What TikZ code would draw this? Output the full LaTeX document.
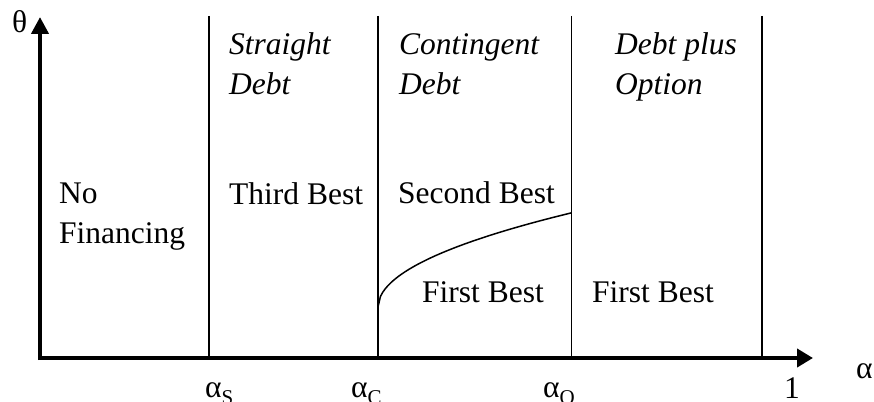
\documentclass[tikz,border=0pt]{standalone}
\usepackage{fontspec}
\setmainfont{Liberation Serif}
\usetikzlibrary{arrows.meta}
\newcommand{\bigfont}{\fontsize{31.5}{40}\selectfont}
\newcommand{\subs}[1]{\raisebox{-7pt}{\fontsize{21}{21}\selectfont #1}}
\begin{document}
\begin{tikzpicture}[x=1pt,y=-1pt,
  lbl/.style={anchor=base west,inner sep=0pt,font=\bigfont,align=left},
  ilbl/.style={lbl,font=\bigfont\itshape},
  axis/.style={line width=4pt},
  divider/.style={line width=1.5pt},
  curveline/.style={line width=1.5pt}]
\useasboundingbox (0,0) rectangle (874,401);
% axes
\coordinate (ybot) at (40,360);
\coordinate (ytip) at (40,17);
\coordinate (xtip) at (813,358);
\coordinate (Ostart) at (38,358);
\draw[axis,-{Triangle[length=17pt,width=17pt]}] (ybot) -- (ytip);
\draw[axis,-{Triangle[length=16pt,width=18pt]}] (Ostart) -- (xtip);
% dividers
\coordinate (s1) at (209,16); \coordinate (s2) at (209,358);
\coordinate (c1) at (378,16); \coordinate (c2) at (378,358);
\coordinate (o1) at (571.5,16); \coordinate (o2) at (571.5,358);
\coordinate (e1) at (762,16); \coordinate (e2) at (762,358);
\draw[divider] (s1) -- (s2);
\draw[divider] (c1) -- (c2);
\draw[divider] (o1) -- (o2);
\draw[divider] (e1) -- (e2);
% boundary curve
\draw[curveline] plot[domain=0:193.5,samples=80] ({378+\x},{307-6.77*sqrt(\x)});
% axis labels
\node[lbl] (theta) at (12,33) {θ};
\node[lbl] (alpha) at (856,378) {α};
\node[lbl] (aS) at (205,397) {α\subs{S}};
\node[lbl] (aC) at (351,397) {α\subs{C}};
\node[lbl] (aO) at (543,397) {α\subs{O}};
\node[lbl] (one) at (784,398) {1};
% region titles (base = baseline of last line)
\node[ilbl] (sd) at (229,95) {Straight\\Debt};
\node[ilbl] (cd) at (399,95) {Contingent\\Debt};
\node[ilbl] (dpo) at (615,95) {Debt plus\\Option};
% region contents
\node[lbl] (nf) at (59,243) {No\\Financing};
\node[lbl] (tb) at (229,204) {Third Best};
\node[lbl] (sb) at (398,203) {Second Best};
\node[lbl] (fb1) at (422,302) {First Best};
\node[lbl] (fb2) at (592,302) {First Best};
\end{tikzpicture}
\end{document}
